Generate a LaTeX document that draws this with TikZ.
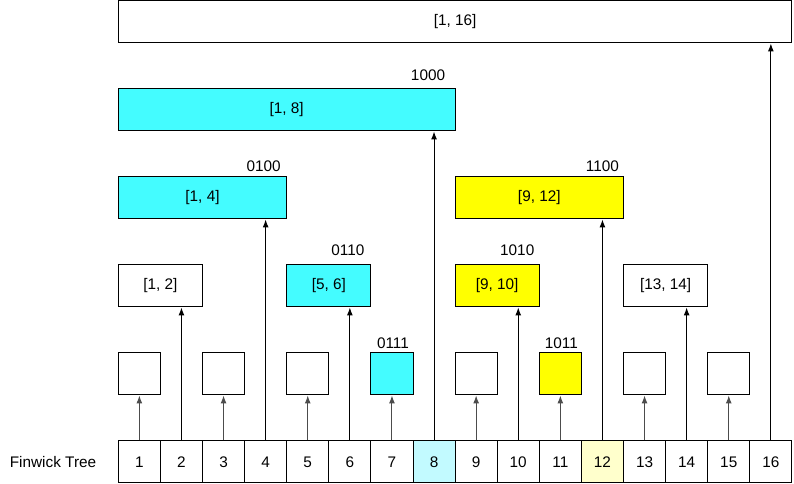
\documentclass[tikz,border=0pt]{standalone}
\usepackage{fontspec}
\setmainfont{Liberation Sans}
\usetikzlibrary{positioning,arrows.meta}

\definecolor{boxcyan}{HTML}{44FCFF}
\definecolor{boxyellow}{HTML}{FFFF00}
\definecolor{lightcyan}{HTML}{C2FAFF}
\definecolor{lightyellow}{HTML}{FFFFCC}

\tikzset{
	txt/.style={font=\fontsize{11.5pt}{13pt}\selectfont},
	cellbox/.style={draw, txt, line width=0.75pt, minimum width=31.575pt, minimum height=31.5pt, inner sep=0pt},
	rangebox/.style={draw, txt, line width=0.75pt, minimum height=31.5pt, inner sep=0pt},
	uparrow/.style={-{Latex[length=6pt,width=4.5pt]}, line width=0.75pt},
	bitlabel/.style={txt, above=6.5pt, inner sep=0pt}
}

\begin{document}
\begin{tikzpicture}[x=0.75pt, y=0.75pt]
				\useasboundingbox (0,0) rectangle (794,484);
				% array of 16 entries
				\foreach \i/\col in {1/white,2/white,3/white,4/white,5/white,6/white,7/white,8/lightcyan,9/white,10/white,11/white,12/lightyellow,13/white,14/white,15/white,16/white}
					\node[cellbox, fill=\col] (c\i) at ({118.3+42.1*(\i-0.5)},22) {\i};
				\node[txt, left=16pt of c1, inner sep=0pt] (title) {Finwick Tree};
				% tree ranges: index / low end / level / colour / text
				\foreach \i/\lo/\lev/\col/\t in {1/1/0/white/{}, 2/1/1/white/{[1, 2]}, 3/3/0/white/{}, 4/1/2/boxcyan/{[1, 4]}, 5/5/0/white/{}, 6/5/1/boxcyan/{[5, 6]}, 7/7/0/boxcyan/{}, 8/1/3/boxcyan/{[1, 8]}, 9/9/0/white/{}, 10/9/1/boxyellow/{[9, 10]}, 11/11/0/boxyellow/{}, 12/9/2/boxyellow/{[9, 12]}, 13/13/0/white/{}, 14/13/1/white/{[13, 14]}, 15/15/0/white/{}, 16/1/4/white/{[1, 16]}}
					\node[rangebox, fill=\col, minimum width={31.575pt*(\i-\lo+1)}] (b\i) at ({118.3+42.1*(\lo-1+\i)/2},{22+88*(\lev+1)}) {\t};
				% arrows from each entry to its range
				\foreach \i in {1,3,...,15}
					\draw[uparrow, black!70] (c\i.north) -- (c\i.north |- b\i.south);
				\foreach \i in {2,4,...,16}
					\draw[uparrow] (c\i.north) -- (c\i.north |- b\i.south);
				% binary indices
				\foreach \i/\b/\dx/\dy in {4/0100/-2/-4.5, 6/0110/-2/0, 7/0111/1/-5, 8/1000/-6/-1, 10/1010/-1/0, 11/1011/1/-5, 12/1100/0/-4.5}
					\node[bitlabel, xshift={\dx*0.75pt}, yshift={\dy*0.75pt}] (l\i) at (c\i.north |- b\i.north) {\b};
			\end{tikzpicture}
\end{document}
